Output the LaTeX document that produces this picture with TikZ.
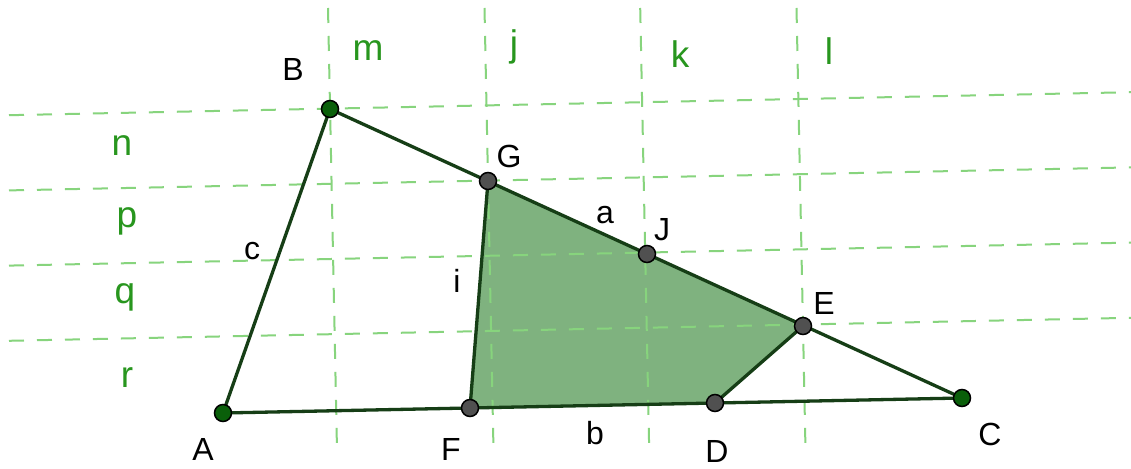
\documentclass[tikz,border=0pt]{standalone}
\usepackage{fontspec}
\setmainfont{Liberation Sans}
\definecolor{gridgreen}{RGB}{135,212,125}
\definecolor{labgreen}{RGB}{40,150,30}
\definecolor{edgegreen}{RGB}{22,62,22}
\definecolor{fillgreen}{RGB}{127,178,127}
\definecolor{ptgreen}{RGB}{10,95,10}
\definecolor{ptgray}{RGB}{80,80,80}
\tikzset{
  gridline/.style={draw=gridgreen, line width=2pt, dash pattern=on 15pt off 13pt},
  edge/.style={draw=edgegreen, line width=3.3pt, line cap=round, line join=round},
  freept/.style={circle, fill=ptgreen, draw=black, line width=1.5pt, minimum size=17pt, inner sep=0pt},
  deppt/.style={circle, fill=ptgray, draw=black, line width=1.5pt, minimum size=17pt, inner sep=0pt},
  blacklab/.style={anchor=base, inner sep=0pt, text=black, font=\fontsize{32}{36}\selectfont},
  greenlab/.style={anchor=base, inner sep=0pt, text=labgreen, font=\fontsize{37}{40}\selectfont}
}
\begin{document}
\begin{tikzpicture}[x=1pt,y=-1pt]
\useasboundingbox (0,0) rectangle (1131,468);
\fill[white] (0,0) rectangle (1131,468);
% points
\coordinate (A) at (223,413);
\coordinate (B) at (330,109);
\coordinate (C) at (962,398);
\coordinate (G) at (488,181);
\coordinate (J) at (647,254);
\coordinate (E) at (803,326);
\coordinate (D) at (715,403);
\coordinate (F) at (470,408);
% filled polygon
\fill[fillgreen] (G) -- (J) -- (E) -- (D) -- (F) -- cycle;
% grid lines
\coordinate (mt) at (328.0,8);   \coordinate (mb) at (337.1,455);
\coordinate (jt) at (484.5,8);   \coordinate (jb) at (493.6,455);
\coordinate (kt) at (640.2,8);   \coordinate (kb) at (649.3,455);
\coordinate (lt) at (796.5,8);   \coordinate (lb) at (805.6,455);
\coordinate (h1l) at (9,115.2);  \coordinate (h1r) at (1131,92.2);
\coordinate (h2l) at (9,190.4);  \coordinate (h2r) at (1131,167.4);
\coordinate (h3l) at (9,265.6);  \coordinate (h3r) at (1131,242.6);
\coordinate (h4l) at (9,340.8);  \coordinate (h4r) at (1131,317.8);
\draw[gridline] (mt) -- (mb);
\draw[gridline] (jt) -- (jb);
\draw[gridline] (kt) -- (kb);
\draw[gridline] (lt) -- (lb);
\draw[gridline] (h1l) -- (h1r);
\draw[gridline] (h2l) -- (h2r);
\draw[gridline] (h3l) -- (h3r);
\draw[gridline] (h4l) -- (h4r);
% edges
\draw[edge] (A) -- (B) -- (C) -- cycle;
\draw[edge] (G) -- (F);
\draw[edge] (E) -- (D);
% point markers
\node[freept] (pA) at (A) {};
\node[freept] (pB) at (B) {};
\node[freept] (pC) at (C) {};
\node[deppt] (pG) at (G) {};
\node[deppt] (pJ) at (J) {};
\node[deppt] (pE) at (E) {};
\node[deppt] (pD) at (D) {};
\node[deppt] (pF) at (F) {};
% black labels
\node[blacklab] (lB) at (293,81) {B};
\node[blacklab] (lG) at (509,167) {G};
\node[blacklab] (la) at (605,223) {a};
\node[blacklab] (lJ) at (662,240) {J};
\node[blacklab] (lE) at (824,314) {E};
\node[blacklab] (lc) at (252,259) {c};
\node[blacklab] (li) at (457,292) {i};
\node[blacklab] (lA) at (203,460) {A};
\node[blacklab] (lF) at (451,460) {F};
\node[blacklab] (lb) at (595,444) {b};
\node[blacklab] (lD) at (717,462) {D};
\node[blacklab] (lC) at (990,445) {C};
% green labels
\node[greenlab] (gm) at (368,61) {m};
\node[greenlab] (gj) at (514,57) {j};
\node[greenlab] (gk) at (680,68) {k};
\node[greenlab] (gl) at (829,65) {l};
\node[greenlab] (gn) at (122,155) {n};
\node[greenlab] (gp) at (127,227) {p};
\node[greenlab] (gq) at (125,303) {q};
\node[greenlab] (gr) at (127,387) {r};
\end{tikzpicture}
\end{document}
